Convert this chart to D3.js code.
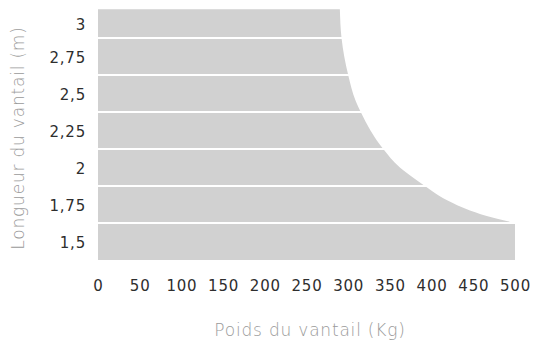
<!DOCTYPE html>
<html>
<head>
<meta charset="utf-8">
<script src="https://cdn.jsdelivr.net/npm/d3@7"></script>
<style>
  html, body { margin: 0; padding: 0; background: #fff; }
  svg { display: block; font-family: "DejaVu Sans", sans-serif; }
</style>
</head>
<body>
<svg id="chart" width="535" height="345"></svg>
<script>
// Leaf length categories (m), one horizontal band each
const lengthBands = [3, 2.75, 2.5, 2.25, 2, 1.75, 1.5];
// Maximum leaf weight (kg) along the limit curve, by length (m)
const curveLength = [3.07, 2.875, 2.625, 2.45, 2.375, 2.125, 2.0, 1.94, 1.875, 1.78, 1.71, 1.66, 1.625];
const curveWeight = [290, 292, 300, 309, 315, 342, 362, 376, 392, 418, 446, 474, 500];
// Shortest band accepts the full weight range
const bottomBandWeight = 500;
// Weight ticks (kg)
const weightTicks = [0, 50, 100, 150, 200, 250, 300, 350, 400, 450, 500];

const halfBand = 0.125;
const fmt = v => String(v).replace(".", ",");

const svg = d3.select("#chart");

const x = d3.scaleLinear().domain([0, 500]).range([98, 515]);
const y = d3.scaleLinear()
  .domain([d3.min(lengthBands) - halfBand, d3.max(lengthBands) + halfBand])
  .range([260, 1]);

// Allowed zone above the shortest band: bounded by the limit curve
const curvePts = curveLength.map((l, i) => ({ l, w: curveWeight[i] }));
const area = d3.area()
  .y(d => y(d.l))
  .x0(x(0))
  .x1(d => x(d.w))
  .curve(d3.curveMonotoneY);

svg.append("path")
  .datum(curvePts)
  .attr("d", area)
  .attr("fill", "#d1d1d1");

// Shortest band: full rectangle up to its max weight
const lowest = d3.min(lengthBands);
svg.append("rect")
  .attr("x", x(0))
  .attr("y", y(lowest + halfBand))
  .attr("width", x(bottomBandWeight) - x(0))
  .attr("height", y(lowest - halfBand) - y(lowest + halfBand))
  .attr("fill", "#d1d1d1");

// White separators between length bands
const topLen = d3.max(curveLength);
const boundaries = lengthBands.slice(1).map(l => l + halfBand);
svg.append("g")
  .selectAll("line")
  .data(boundaries)
  .join("line")
  .attr("x1", x(0) - 1)
  .attr("x2", x(500) + 2)
  .attr("y1", d => y(d))
  .attr("y2", d => y(d))
  .attr("stroke", "#fff")
  .attr("stroke-width", 2);

// Length labels, centred on the visible part of each band
svg.append("g")
  .selectAll("text")
  .data(lengthBands)
  .join("text")
  .attr("x", 86)
  .attr("y", d => (y(Math.min(d + halfBand, topLen)) + y(d - halfBand)) / 2 + 1.5)
  .attr("dy", "0.36em")
  .attr("text-anchor", "end")
  .attr("fill", "#2e2e2e")
  .style("font-size", "15px")
  .style("letter-spacing", "0.8px")
  .text(fmt);

// Weight axis
const xAxis = svg.append("g")
  .attr("transform", "translate(0,280)")
  .call(d3.axisBottom(x).tickValues(weightTicks).tickSize(0).tickPadding(0).tickFormat(d => d));
xAxis.select(".domain").remove();
xAxis.selectAll("text")
  .attr("fill", "#2e2e2e")
  .style("font-size", "15px")
  .style("letter-spacing", "0.8px")
  .style("font-family", "'DejaVu Sans', sans-serif");

// Axis titles
svg.append("text")
  .attr("x", 310)
  .attr("y", 330)
  .attr("dy", "0.36em")
  .attr("text-anchor", "middle")
  .attr("fill", "#9a9a9a")
  .style("font-size", "17px")
  .style("font-weight", 200)
  .style("letter-spacing", "0.8px")
  .text("Poids du vantail (Kg)");

svg.append("text")
  .attr("transform", "translate(18,138) rotate(-90)")
  .attr("dy", "0.36em")
  .attr("text-anchor", "middle")
  .attr("fill", "#9a9a9a")
  .style("font-size", "17px")
  .style("font-weight", 200)
  .style("letter-spacing", "0.8px")
  .text("Longueur du vantail (m)");
</script>
</body>
</html>
